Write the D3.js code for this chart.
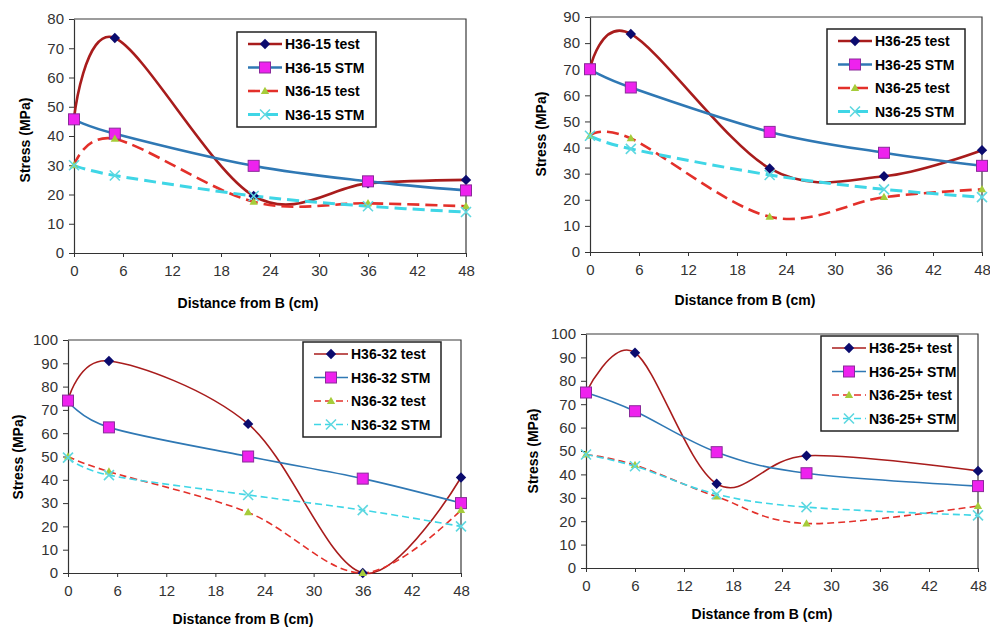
<!DOCTYPE html>
<html>
<head>
<meta charset="utf-8">
<script src="https://cdn.jsdelivr.net/npm/d3@7"></script>
<style>
  body { margin: 0; background: #fff; }
  text { font-family: "Liberation Sans", Arial, sans-serif; }
</style>
</head>
<body>
<svg id="chart" width="990" height="628"></svg>
<script>
// x ticks shared by all four charts
var xTicks = [0, 6, 12, 18, 24, 30, 36, 42, 48];

// top-left: H36-15 / N36-15
var p1X = [0, 5, 22, 36, 48];
var p1Names = ['H36-15 test', 'H36-15 STM', 'N36-15 test', 'N36-15 STM'];
var p1HTest = [46, 73.5, 19.5, 23.8, 25];
var p1HStm = [45.7, 40.8, 29.8, 24.5, 21.4];
var p1NTest = [30, 39, 17.5, 17, 16];
var p1NStm = [30, 26.5, 19.5, 16, 14];

// top-right: H36-25 / N36-25
var p2X = [0, 5, 22, 36, 48];
var p2Names = ['H36-25 test', 'H36-25 STM', 'N36-25 test', 'N36-25 STM'];
var p2HTest = [70, 83.5, 32, 29, 39];
var p2HStm = [70, 63, 46, 38, 33];
var p2NTest = [44.5, 43.5, 13.5, 21, 24];
var p2NStm = [44.5, 39.5, 29.5, 24, 21];

// bottom-left: H36-32 / N36-32
var p3X = [0, 5, 22, 36, 48];
var p3Names = ['H36-32 test', 'H36-32 STM', 'N36-32 test', 'N36-32 STM'];
var p3HTest = [74, 91, 64, 0, 41];
var p3HStm = [74, 62.5, 50, 40.5, 30];
var p3NTest = [50, 43.5, 26, 0, 27];
var p3NStm = [49.5, 42, 33.5, 27, 20];

// bottom-right: H36-25+ / N36-25+
var p4X = [0, 6, 16, 27, 48];
var p4Names = ['H36-25+ test', 'H36-25+ STM', 'N36-25+ test', 'N36-25+ STM'];
var p4HTest = [75, 92, 36, 48, 41.5];
var p4HStm = [75, 67, 49.5, 40.5, 35];
var p4NTest = [48.5, 44, 30.5, 19, 26.5];
var p4NStm = [48.5, 43.5, 31.5, 26, 22.5];

var svg = d3.select('#chart');

// line + marker look of the 4 series (order: H test, H STM, N test, N STM)
var seriesStyle = [
  {color: '#a81c1c', dash: null, marker: 'diamond'},
  {color: '#2f78b4', dash: null, marker: 'square'},
  {color: '#e3302a', dash: true, marker: 'triangle'},
  {color: '#3fd6e6', dash: true, marker: 'x'}
];

function drawMarker(g, type, cx, cy) {
  if (type === 'diamond') {
    g.append('path')
      .attr('d', 'M0,-5.2L5.2,0L0,5.2L-5.2,0Z')
      .attr('transform', 'translate(' + cx + ',' + cy + ')')
      .attr('fill', '#0b0b6e');
  } else if (type === 'square') {
    g.append('rect')
      .attr('x', cx - 5.5).attr('y', cy - 5.5)
      .attr('width', 11).attr('height', 11)
      .attr('fill', '#ee22ee')
      .attr('stroke', '#8a2a9a').attr('stroke-width', 1);
  } else if (type === 'triangle') {
    g.append('path')
      .attr('d', d3.symbol().type(d3.symbolTriangle).size(30)())
      .attr('transform', 'translate(' + cx + ',' + (cy + 0.5) + ')')
      .attr('fill', '#a6cc3a');
  } else {
    g.append('path')
      .attr('d', 'M-5,-5L5,5M-5,5L5,-5')
      .attr('transform', 'translate(' + cx + ',' + cy + ')')
      .attr('stroke', '#5fd8e0').attr('stroke-width', 1.6).attr('fill', 'none');
  }
}

function drawPanel(p) {
  var g = svg.append('g');

  var x = d3.scaleLinear().domain([0, 48]).range([p.left, p.right]);
  var y = d3.scaleLinear().domain([0, p.yMax]).range([p.bottom, p.top]);

  // plot area border (top + right)
  g.append('path')
    .attr('d', 'M' + p.left + ',' + p.top + 'H' + p.right + 'V' + p.bottom)
    .attr('fill', 'none').attr('stroke', '#3a3a3a').attr('stroke-width', 1.2);

  var yAxis = g.append('g')
    .attr('transform', 'translate(' + p.left + ',0)')
    .call(d3.axisLeft(y).tickValues(d3.range(0, p.yMax + 1, 10)).tickSize(5).tickPadding(5).tickSizeOuter(0));

  var xAxis = g.append('g')
    .attr('transform', 'translate(0,' + p.bottom + ')')
    .call(d3.axisBottom(x).tickValues(xTicks).tickSize(4).tickPadding(8).tickSizeOuter(0));

  [yAxis, xAxis].forEach(function (a) {
    a.select('.domain').attr('stroke', '#333').attr('stroke-width', 1.2);
    a.selectAll('.tick line').attr('stroke', '#333');
    a.selectAll('.tick text').attr('fill', '#333').style('font-size', '15px');
  });

  // axis titles
  g.append('text')
    .attr('x', p.xTitleX).attr('y', p.xTitleY)
    .attr('text-anchor', 'middle')
    .style('font-size', '14px').style('font-weight', 'bold')
    .text('Distance from B (cm)');

  g.append('text')
    .attr('transform', 'translate(' + p.yTitleX + ',' + p.yTitleY + ') rotate(-90)')
    .attr('text-anchor', 'middle')
    .style('font-size', '14px').style('font-weight', 'bold')
    .text('Stress (MPa)');

  var line = d3.line()
    .x(function (d) { return x(d.x); })
    .y(function (d) { return y(d.y); })
    .curve(d3.curveCardinal.tension(0));

  var width = p.thin ? 1.6 : 2.6;
  var dashes = p.thin ? '7,4' : '12,6';

  p.series.forEach(function (vals, i) {
    var pts = vals.map(function (v, j) { return {x: p.xs[j], y: v}; });
    var st = seriesStyle[i];
    g.append('path')
      .datum(pts)
      .attr('d', line)
      .attr('fill', 'none')
      .attr('stroke', st.color)
      .attr('stroke-width', i === 3 && !p.thin ? 3 : width)
      .attr('stroke-dasharray', st.dash ? dashes : null);
  });

  p.series.forEach(function (vals, i) {
    vals.forEach(function (v, j) {
      drawMarker(g, seriesStyle[i].marker, x(p.xs[j]), y(v));
    });
  });

  // legend
  var lg = g.append('g');
  lg.append('rect')
    .attr('x', p.legX).attr('y', p.legY)
    .attr('width', p.legW).attr('height', 95)
    .attr('fill', '#fff').attr('stroke', '#222').attr('stroke-width', 1.5);

  p.names.forEach(function (name, i) {
    var st = seriesStyle[i];
    var ry = p.legY + 12 + i * 23.5;
    var x0 = p.legX + 11, x1 = p.legX + 45;
    lg.append('line')
      .attr('x1', x0).attr('x2', x1).attr('y1', ry).attr('y2', ry)
      .attr('stroke', st.color)
      .attr('stroke-width', i === 3 && !p.thin ? 3 : width)
      .attr('stroke-dasharray', st.dash ? dashes : null);
    drawMarker(lg, st.marker, (x0 + x1) / 2, ry);
    lg.append('text')
      .attr('x', x1 + 3).attr('y', ry)
      .attr('dy', '0.36em')
      .style('font-size', '14px').style('font-weight', 'bold')
      .text(name);
  });
}

drawPanel({
  left: 74, right: 466, top: 19, bottom: 253, yMax: 80,
  xs: p1X, names: p1Names, series: [p1HTest, p1HStm, p1NTest, p1NStm],
  xTitleX: 248, xTitleY: 308, yTitleX: 30, yTitleY: 140,
  legX: 237, legY: 32, legW: 139, thin: false
});

drawPanel({
  left: 590, right: 982, top: 17, bottom: 252, yMax: 90,
  xs: p2X, names: p2Names, series: [p2HTest, p2HStm, p2NTest, p2NStm],
  xTitleX: 745, xTitleY: 305, yTitleX: 546, yTitleY: 134,
  legX: 827, legY: 29, legW: 138, thin: false
});

drawPanel({
  left: 68, right: 461, top: 340, bottom: 573, yMax: 100,
  xs: p3X, names: p3Names, series: [p3HTest, p3HStm, p3NTest, p3NStm],
  xTitleX: 243, xTitleY: 624, yTitleX: 23, yTitleY: 457,
  legX: 303, legY: 342, legW: 138, thin: true
});

drawPanel({
  left: 586, right: 978, top: 334, bottom: 568, yMax: 100,
  xs: p4X, names: p4Names, series: [p4HTest, p4HStm, p4NTest, p4NStm],
  xTitleX: 762, xTitleY: 619, yTitleX: 538, yTitleY: 451,
  legX: 821, legY: 336, legW: 137, thin: true
});
</script>
</body>
</html>
